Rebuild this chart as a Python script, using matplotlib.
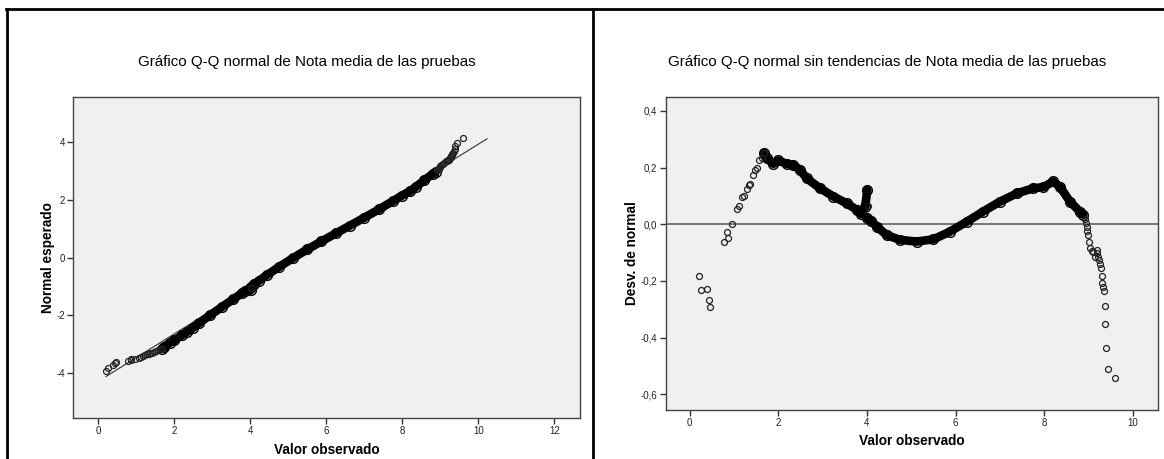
import matplotlib
matplotlib.use("Agg")
import matplotlib.pyplot as plt
from matplotlib.lines import Line2D
import numpy as np

plt.rcParams['font.family'] = ['Liberation Sans', 'DejaVu Sans']
plt.rcParams['axes.unicode_minus'] = False

# Nota media de las pruebas: mean / sd used for the normal reference line
mean_nota = 5.22
sd_nota = 1.216
ref_line_x = [0.2, 10.23]

# Detrended deviations (Desv. de normal) per observed value
# isolated low-end cases
low_x = [0.207, 0.266, 0.395, 0.432, 0.455, 0.771, 0.853, 0.868, 0.951, 1.064,
         1.109, 1.176, 1.221, 1.289, 1.334, 1.356, 1.424, 1.469, 1.514, 1.574,
         1.634, 1.679]
low_dev = [-0.182, -0.233, -0.227, -0.267, -0.291, -0.064, -0.028, -0.048, 0.0,
           0.055, 0.064, 0.095, 0.099, 0.124, 0.138, 0.142, 0.175, 0.192, 0.198,
           0.227, 0.235, 0.251]

# dense run of cases below 4
band1_x = [1.679, 1.740, 1.890, 2.003, 2.191, 2.341, 2.492, 2.642, 2.943, 3.243,
           3.544, 3.770, 3.860, 3.960, 4.010]
band1_dev = [0.251, 0.233, 0.213, 0.225, 0.213, 0.209, 0.192, 0.162, 0.127, 0.098,
             0.074, 0.051, 0.036, 0.062, 0.121]

# dense run of cases from 4 upwards
band2_x = [4.010, 4.100, 4.220, 4.446, 4.746, 5.120, 5.500, 5.870, 6.250, 6.620,
           7.000, 7.380, 7.750, 7.980, 8.200, 8.350, 8.580, 8.800, 8.880]
band2_dev = [0.021, 0.012, -0.008, -0.038, -0.055, -0.061, -0.053, -0.026, 0.009,
             0.045, 0.080, 0.109, 0.127, 0.131, 0.151, 0.133, 0.080, 0.045, 0.033]

# isolated high-end cases
high_x = [4.030, 8.917, 8.939, 8.954, 8.969, 8.984, 8.999, 9.029, 9.067, 9.104,
          9.142, 9.180, 9.195, 9.217, 9.240, 9.255, 9.270, 9.292, 9.300, 9.315,
          9.345, 9.367, 9.375, 9.390, 9.427, 9.592]
high_dev = [0.065, 0.018, 0.004, -0.008, -0.022, -0.038, -0.061, -0.085, -0.093,
            -0.096, -0.114, -0.091, -0.100, -0.114, -0.125, -0.140, -0.155, -0.181,
            -0.208, -0.220, -0.237, -0.287, -0.352, -0.436, -0.509, -0.541]

left_yticks = [4, 2, 0, -2, -4]
left_xticks = [0, 2, 4, 6, 8, 10, 12]
right_yticks = [0.4, 0.2, 0.0, -0.2, -0.4, -0.6]
right_xticks = [0, 2, 4, 6, 8, 10]


def expected_normal(x, dev):
    """Expected normal score from observed value and its detrended deviation"""
    x = np.asarray(x)
    return (x - mean_nota) / sd_nota - np.asarray(dev)


def style_axes(ax):
    ax.set_facecolor('#f0f0f0')
    for side in ['top', 'right', 'left', 'bottom']:
        ax.spines[side].set_color('#444444')
        ax.spines[side].set_linewidth(1.0)
    ax.tick_params(direction='out', length=4, width=1, color='#333333',
                   labelsize=7, labelcolor='#222222', pad=2,
                   top=False, right=False)


def draw_points(ax, xs, ys):
    ax.plot(xs, ys, linestyle='none', marker='o', markersize=4.3,
            markerfacecolor='none', markeredgecolor='#222222', markeredgewidth=0.9)


def draw_band(ax, xs, ys):
    ax.plot(xs, ys, color='black', linewidth=6.2, solid_capstyle='round',
            solid_joinstyle='round')
    ax.plot(xs, ys, linestyle='none', marker='o', markersize=7,
            markerfacecolor='none', markeredgecolor='black', markeredgewidth=1.0)


W, H = 1164, 459
fig = plt.figure(figsize=(W / 100, H / 100), dpi=100)
fig.patch.set_facecolor('white')

# --- Q-Q normal ---
ax1 = fig.add_axes([73.3 / W, 1 - 417.5 / H, (579.7 - 73.3) / W, (417.5 - 96.7) / H])
style_axes(ax1)
ref_line_y = (np.array(ref_line_x) - mean_nota) / sd_nota
ax1.plot(ref_line_x, ref_line_y, color='#333333', linewidth=0.8)
draw_band(ax1, band1_x, expected_normal(band1_x, band1_dev))
draw_band(ax1, band2_x, expected_normal(band2_x, band2_dev))
draw_points(ax1, low_x, expected_normal(low_x, low_dev))
draw_points(ax1, high_x, expected_normal(high_x, high_dev))
ax1.set_xlim(-0.66, 12.67)
ax1.set_ylim(-5.55, 5.58)
ax1.set_xticks(left_xticks)
ax1.set_yticks(left_yticks)
ax1.set_yticklabels([str(t) for t in left_yticks])
ax1.set_xlabel('Valor observado', fontsize=9.8, fontweight='bold')
ax1.set_ylabel('Normal esperado', fontsize=9.8, fontweight='bold')
ax1.xaxis.set_label_coords(0.5, -(450 - 417.5) / 320.8)
ax1.xaxis.label.set_va('center')
ax1.yaxis.set_label_coords((48 - 73.3) / 506.4, 0.5)
ax1.yaxis.label.set_va('center')

# --- Q-Q normal sin tendencias ---
ax2 = fig.add_axes([665.7 / W, 1 - 410 / H, (1157.7 - 665.7) / W, (410 - 96.7) / H])
style_axes(ax2)
ax2.axhline(0, color='#555555', linewidth=1.1)
draw_band(ax2, band1_x, band1_dev)
draw_band(ax2, band2_x, band2_dev)
draw_points(ax2, low_x, low_dev)
draw_points(ax2, high_x, high_dev)
ax2.set_xlim(-0.537, 10.557)
ax2.set_ylim(-0.655, 0.450)
ax2.set_xticks(right_xticks)
ax2.set_yticks(right_yticks)
ax2.set_yticklabels([f'{t:.1f}'.replace('.', ',').replace('-0,0', '0,0') for t in right_yticks])
ax2.set_xlabel('Valor observado', fontsize=9.8, fontweight='bold')
ax2.set_ylabel('Desv. de normal', fontsize=9.8, fontweight='bold')
ax2.xaxis.set_label_coords(0.5, -(441 - 410) / 313.3)
ax2.xaxis.label.set_va('center')
ax2.yaxis.set_label_coords((632 - 665.7) / 492.0, 0.5)
ax2.yaxis.label.set_va('center')

fig.text(306.5 / W, 1 - 62 / H, 'Gráfico Q-Q normal de Nota media de las pruebas',
         ha='center', va='center', fontsize=10.9, color='black')
fig.text(887 / W, 1 - 62 / H, 'Gráfico Q-Q normal sin tendencias de Nota media de las pruebas',
         ha='center', va='center', fontsize=10.9, color='black')

# outer frame and divider
frame_kw = dict(color='black', linewidth=2.0, transform=fig.transFigure)
fig.add_artist(Line2D([6 / W, 1.0], [1 - 9 / H, 1 - 9 / H], **frame_kw))
fig.add_artist(Line2D([7 / W, 7 / W], [0, 1 - 9 / H], **frame_kw))
fig.add_artist(Line2D([593 / W, 593 / W], [0, 1 - 9 / H], **frame_kw))

fig.savefig('out.png', dpi=100)
